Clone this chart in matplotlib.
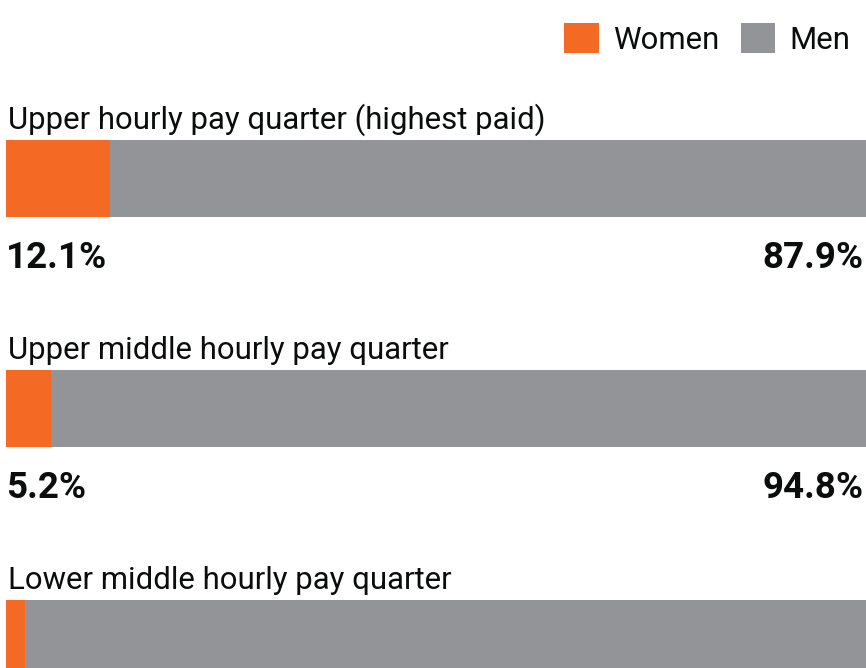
import matplotlib
matplotlib.use("Agg")
import matplotlib.pyplot as plt
from matplotlib.patches import Patch

categories = ["Upper hourly pay quarter (highest paid)",
              "Upper middle hourly pay quarter",
              "Lower middle hourly pay quarter"]
women = [12.1, 5.2, 2.2]
men = [87.9, 94.8, 97.8]
series_names = ["Women", "Men"]

ORANGE = "#F46A25"
GREY = "#939498"
TEXT = "#0b0c0c"
FONT = "Roboto"

W, H = 866, 668
fig = plt.figure(figsize=(W / 100, H / 100), dpi=100)
left = 6 / W
ax = fig.add_axes([left, 0, 1 - left, 1])
ax.set_xlim(0, 100)
ax.set_ylim(H, 0)
ax.axis("off")

bar_top0 = 140
spacing = 230
bar_h = 77
for i, (cat, w, m) in enumerate(zip(categories, women, men)):
    top = bar_top0 + i * spacing
    yc = top + bar_h / 2
    ax.barh(yc, w, height=bar_h, left=0, color=ORANGE, linewidth=0)
    ax.barh(yc, m, height=bar_h, left=w, color=GREY, linewidth=0)
    ax.text(0.2, top - 11, cat, fontsize=22.4, family=FONT, color=TEXT,
            ha="left", va="baseline")
    num_y = top + bar_h + 51
    if num_y < H:
        ax.text(0.05, num_y, f"{w}%", fontsize=26.5, family=FONT,
                fontweight="bold", color=TEXT, ha="left", va="baseline")
        ax.text(99.75, num_y, f"{m}%", fontsize=26.5, family=FONT,
                fontweight="bold", color=TEXT, ha="right", va="baseline")

handles = [Patch(facecolor=ORANGE, edgecolor="none"),
           Patch(facecolor=GREY, edgecolor="none")]
leg = fig.legend(handles, series_names, loc="upper right",
                 bbox_to_anchor=(1.0 + 4 / W, 1.0 - 3 / H), ncol=2, frameon=False,
                 prop={"family": FONT, "size": 22.4},
                 handlelength=1.1, handleheight=1.1, handletextpad=0.45,
                 columnspacing=0.7, borderaxespad=0.25)
for t in leg.get_texts():
    t.set_color(TEXT)

fig.savefig("out.png", dpi=100)
